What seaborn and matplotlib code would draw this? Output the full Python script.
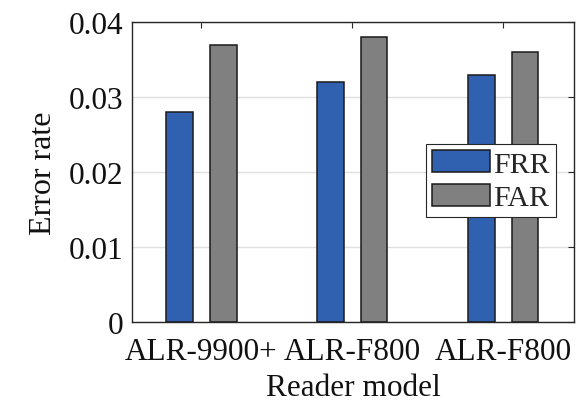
import matplotlib
matplotlib.use("Agg")
import matplotlib.pyplot as plt
import seaborn as sns
import pandas as pd

readers = ["ALR-9900+", "ALR-F800", "ALR-F800"]
frr = [0.028, 0.032, 0.033]
far = [0.037, 0.038, 0.036]
yticks = [0, 0.01, 0.02, 0.03, 0.04]
ytick_labels = ["0", "0.01", "0.02", "0.03", "0.04"]

sns.set_theme(style="white")
plt.rcParams["font.family"] = ["Liberation Serif", "DejaVu Serif"]

groups = [f"g{i}" for i in range(len(readers))]
df = pd.DataFrame({
    "group": groups * 2,
    "metric": ["FRR"] * len(readers) + ["FAR"] * len(readers),
    "rate": frr + far,
})

fig = plt.figure(figsize=(5.8, 4.02), dpi=100)
ax = fig.add_axes([132 / 580, 1 - 323 / 402, (574 - 132) / 580, (323 - 23) / 402])

sns.barplot(data=df, x="group", y="rate", hue="metric", order=groups,
            hue_order=["FRR", "FAR"],
            palette={"FRR": "#3060b0", "FAR": "#808080"},
            width=0.58, gap=0.39, edgecolor="#1a1a1a", linewidth=1.1,
            errorbar=None, ax=ax, zorder=3, saturation=1)

ax.set_xlim(-0.46, 2.47)
ax.set_ylim(0, 0.04)
ax.set_yticks(yticks)
ax.set_yticklabels(ytick_labels)
ax.set_xticks(range(len(readers)))
ax.set_xticklabels(readers)

ax.yaxis.grid(True, color="#e0e0e0", linewidth=1.0, zorder=0)
ax.set_axisbelow(True)
for s in ax.spines.values():
    s.set_visible(True)
    s.set_color("#262626")
    s.set_linewidth(1.0)

ax.tick_params(axis="both", which="both", direction="in", length=4, width=0.8,
               color="#262626", top=True, right=True, labelsize=22.5,
               labelcolor="#111111", pad=6)
ax.tick_params(axis="x", pad=11)

ax.set_xlabel("Reader model", fontsize=22.5, labelpad=5, color="#111111")
ax.set_ylabel("Error rate", fontsize=23, labelpad=8, color="#111111")

leg = ax.legend(loc="upper left", bbox_to_anchor=((426 - 132) / 442, 1 - (145 - 23) / 300),
                frameon=True, fontsize=21.5, handlelength=1.93, handleheight=0.78,
                handletextpad=0.13, borderpad=0.2, labelspacing=0.2,
                borderaxespad=0, fancybox=False)
leg.get_frame().set_edgecolor("#262626")
leg.get_frame().set_linewidth(0.8)
leg.get_frame().set_alpha(1)

fig.savefig("out.png", dpi=100)
